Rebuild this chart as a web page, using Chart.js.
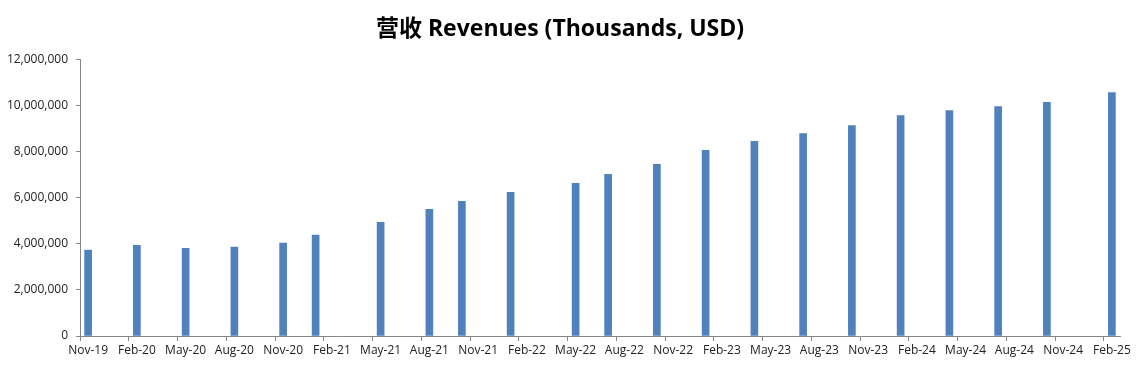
<!DOCTYPE html>
<html>
<head>
<meta charset="utf-8">
<script src="https://cdn.jsdelivr.net/npm/chart.js@4"></script>
<style>
  html, body { margin: 0; padding: 0; background: #fff; }
  #wrap { width: 1143px; height: 365px; }
</style>
</head>
<body>
<div id="wrap"><canvas id="chart"></canvas></div>
<script>
// reporting months and revenue (thousands USD)
const barMonths = ["Nov-19", "Feb-20", "May-20", "Aug-20", "Nov-20", "Jan-21", "May-21", "Aug-21", "Oct-21", "Jan-22", "May-22",
    "Jul-22", "Oct-22", "Jan-23", "Apr-23", "Jul-23", "Oct-23", "Jan-24", "Apr-24", "Jul-24", "Oct-24", "Feb-25"];
const revenues = [3730000, 3940000, 3810000, 3860000, 4030000, 4380000, 4940000, 5500000, 5850000, 6240000, 6630000,
    7020000, 7450000, 8060000, 8450000, 8790000, 9140000, 9570000, 9790000, 9960000, 10140000, 10570000];
const tickLabels = ["Nov-19", "Feb-20", "May-20", "Aug-20", "Nov-20", "Feb-21", "May-21", "Aug-21", "Nov-21", "Feb-22", "May-22",
    "Aug-22", "Nov-22", "Feb-23", "May-23", "Aug-23", "Nov-23", "Feb-24", "May-24", "Aug-24", "Nov-24", "Feb-25"];
const yTicks = [0, 2000000, 4000000, 6000000, 8000000, 10000000, 12000000];

// every month on the date axis, Nov-19 .. Feb-25
const monthNames = ["Jan", "Feb", "Mar", "Apr", "May", "Jun", "Jul", "Aug", "Sep", "Oct", "Nov", "Dec"];
const allMonths = [];
for (let y = 2019, m = 10; y < 2025 || (y === 2025 && m <= 1); m++) {
    if (m === 12) { m = 0; y++; }
    allMonths.push(monthNames[m] + "-" + String(y).slice(2));
}

const axisColor = "#868686";
const font = { family: "'Open Sans', 'Noto Sans', sans-serif", size: 12 };

new Chart(document.getElementById("chart"), {
    type: "bar",
    data: {
        labels: allMonths,
        datasets: [{
            label: "Revenues",
            data: barMonths.map((m, i) => ({ x: m, y: revenues[i] })),
            backgroundColor: "#4F81BD",
            barThickness: 7
        }]
    },
    options: {
        responsive: true,
        maintainAspectRatio: false,
        animation: false,
        layout: { padding: { left: 0, right: 23, top: 0, bottom: 0 } },
        plugins: {
            legend: { display: false },
            tooltip: { enabled: false },
            title: {
                display: true,
                text: "营收 Revenues (Thousands, USD)",
                color: "#000",
                font: { family: "'Open Sans', 'Noto Sans CJK SC', sans-serif", size: 23, weight: "bold" },
                padding: { top: 16, bottom: 16 }
            }
        },
        scales: {
            x: {
                offset: true,
                border: { color: axisColor, width: 1 },
                grid: {
                    offset: true,
                    drawOnChartArea: false,
                    tickLength: 5,
                    tickColor: ctx => (ctx.index % 3 === 0 ? axisColor : "rgba(0,0,0,0)")
                },
                ticks: {
                    autoSkip: false,
                    maxRotation: 0,
                    minRotation: 0,
                    padding: 2,
                    color: "#222",
                    font: font,
                    callback: (v, i) => (tickLabels.includes(allMonths[i]) ? allMonths[i] : "")
                },
                afterFit: s => { s.height = 29; }
            },
            y: {
                min: 0,
                max: 12000000,
                border: { color: axisColor, width: 1 },
                grid: { drawOnChartArea: false, tickLength: 4, color: axisColor },
                afterBuildTicks: s => { s.ticks = yTicks.map(v => ({ value: v })); },
                ticks: {
                    color: "#222",
                    font: font,
                    padding: 8,
                    callback: v => v.toLocaleString("en-US")
                },
                afterFit: s => { s.width = 80; }
            }
        }
    }
});
</script>
</body>
</html>
